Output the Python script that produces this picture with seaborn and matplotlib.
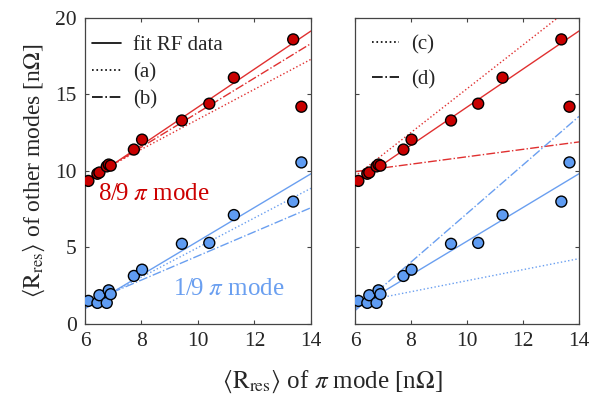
import numpy as np
import pandas as pd
import matplotlib.pyplot as plt
import seaborn as sns
from matplotlib.lines import Line2D

# pi-mode residual resistance (x) and other modes (y)
x_pi = [6.12, 6.44, 6.51, 6.77, 6.84, 6.91, 7.73, 8.02, 9.43, 10.40, 11.27, 13.37, 13.66]
y_89 = [9.35, 9.82, 9.90, 10.30, 10.42, 10.35, 11.40, 12.05, 13.30, 14.40, 16.10, 18.60, 14.20]
y_19 = [1.51, 1.38, 1.88, 1.38, 2.20, 1.95, 3.14, 3.55, 5.24, 5.30, 7.12, 8.00, 10.56]

# line endpoints at x = 6 and x = 14
x_ends = [6, 14]
fit_89 = [9.20, 19.15]
a_89 = [9.46, 17.30]
b_89 = [9.31, 18.33]
c_89 = [9.65, 21.10]
d_89 = [9.96, 11.90]
fit_19 = [1.00, 9.82]
a_19 = [1.13, 8.87]
b_19 = [1.30, 7.60]
c_19 = [1.39, 4.27]
d_19 = [0.87, 13.57]

red_pt, blue_pt = '#c80000', '#5f9cf2'
red_ln, blue_ln = '#e03030', '#6a9ff0'

sns.set_theme(style="ticks")
plt.rcParams['font.family'] = ['Liberation Serif', 'DejaVu Serif']
plt.rcParams['mathtext.fontset'] = 'stix'

df = pd.DataFrame({'x': x_pi * 2, 'y': y_89 + y_19,
                   'mode': ['8/9'] * len(x_pi) + ['1/9'] * len(x_pi)})

fig = plt.figure(figsize=(5.89, 3.97), dpi=100)
ax1 = fig.add_axes([0.1443, 0.1839, 0.3837, 0.7708])
ax2 = fig.add_axes([0.6027, 0.1839, 0.3803, 0.7708])

def draw_line(ax, yv, color, ls):
    sns.lineplot(x=x_ends, y=yv, ax=ax, color=color, linestyle=ls, linewidth=1.0, zorder=1)

for ax, extra in [(ax1, [(a_89, a_19, ':'), (b_89, b_19, '-.')]),
                  (ax2, [(c_89, c_19, ':'), (d_89, d_19, '-.')])]:
    draw_line(ax, fit_89, red_ln, '-')
    draw_line(ax, fit_19, blue_ln, '-')
    for r, b, ls in extra:
        draw_line(ax, r, red_ln, ls)
        draw_line(ax, b, blue_ln, ls)
    sns.scatterplot(data=df, x='x', y='y', hue='mode', palette={'8/9': red_pt, '1/9': blue_pt},
                    s=62, edgecolor='black', linewidth=1.0, ax=ax, legend=False, zorder=3)
    ax.set_xlim(6, 14)
    ax.set_ylim(0, 20)
    ax.set_xticks([6, 8, 10, 12, 14])
    ax.set_yticks([0, 5, 10, 15, 20])
    ax.set_xlabel('')
    ax.set_ylabel('')
    ax.tick_params(direction='in', length=3, width=0.8, top=True, right=True,
                   labelsize=15.5, color='#444444', pad=6)
    for sp in ax.spines.values():
        sp.set_color('#444444')
        sp.set_linewidth(0.9)

ax2.set_yticklabels([])

h1 = [Line2D([], [], color='black', ls='-', lw=1.2),
      Line2D([], [], color='black', ls=':', lw=1.2),
      Line2D([], [], color='black', ls='-.', lw=1.2)]
ax1.legend(h1, ['fit RF data', '(a)', '(b)'], loc='upper left', bbox_to_anchor=(0.0, 0.966),
           frameon=False, fontsize=15, handlelength=1.4, handletextpad=0.55, labelspacing=0.35,
           borderaxespad=0.25, borderpad=0.1)
ax2.legend(h1[1:], ['(c)', '(d)'], loc='upper left', frameon=False,
           fontsize=15, handlelength=1.3, handletextpad=0.6, labelspacing=0.75,
           borderaxespad=0.7, borderpad=0.1)

ax1.text(6.45, 8.5, r'8/9 $\pi$ mode', color='#cc0000', fontsize=18, va='center')
ax1.text(9.1, 2.3, r'1/9 $\pi$ mode', color='#6a9ff0', fontsize=18, va='center')

ax1.set_ylabel(r'$\langle\mathrm{R_{res}}\rangle$ of other modes [n$\Omega$]', fontsize=17, labelpad=6)
fig.text(0.565, 0.038, r'$\langle\mathrm{R_{res}}\rangle$ of $\pi$ mode [n$\Omega$]',
         fontsize=18, ha='center', va='center')

fig.savefig('out.png', dpi=100)
